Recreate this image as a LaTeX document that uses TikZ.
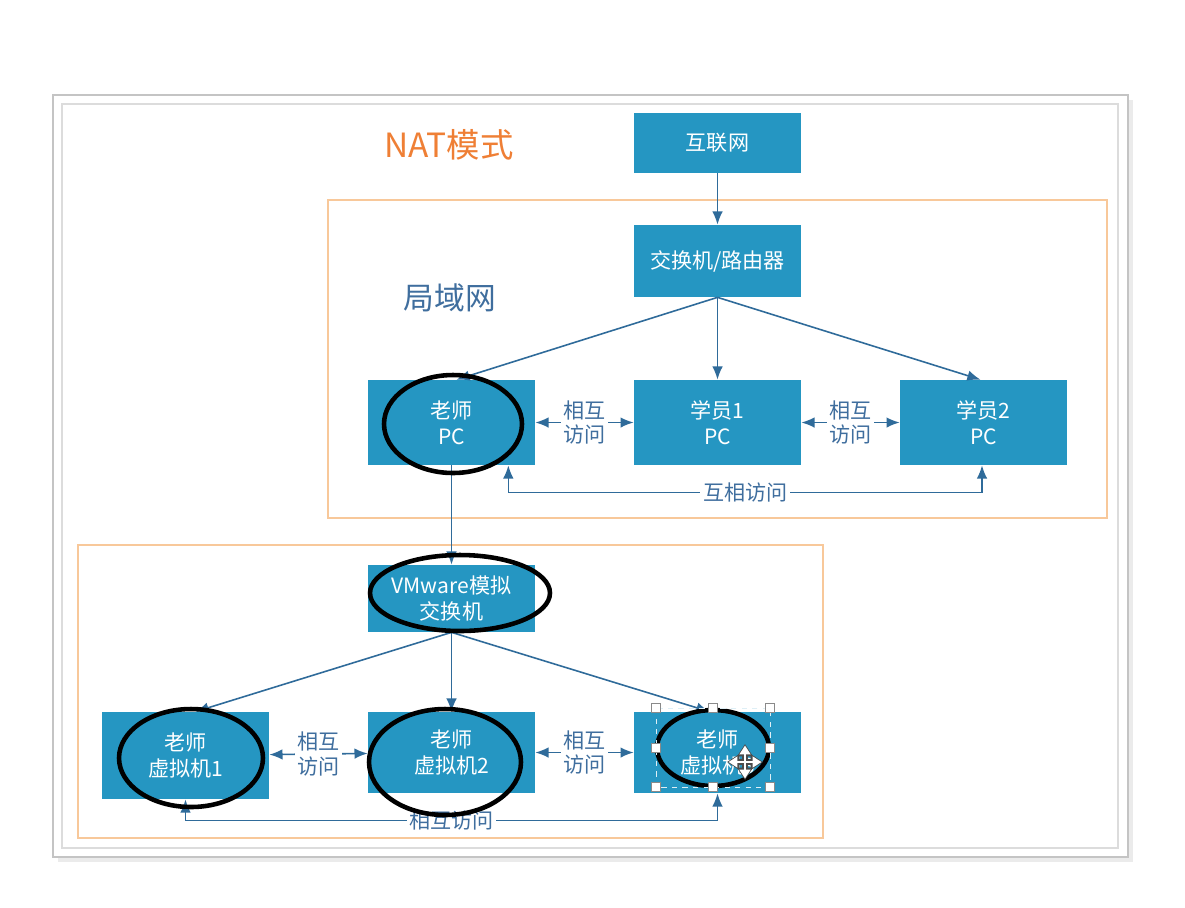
\documentclass[tikz,border=0pt]{standalone}
\usepackage{fontspec}
\setmainfont{Noto Sans CJK SC}
\usetikzlibrary{arrows.meta, positioning, calc}

\definecolor{boxblue}{HTML}{2596C2}
\definecolor{linkblue}{HTML}{2F6B9A}
\definecolor{textblue}{HTML}{3F6E9E}
\definecolor{zoneorange}{HTML}{F8C89A}
\definecolor{titleorange}{HTML}{EF7F35}
\definecolor{framegray}{HTML}{C4C4C4}
\definecolor{handlegray}{HTML}{8A8A8A}

\tikzset{
  netbox/.style={fill=boxblue, text=white, minimum width=3.34cm, align=center,
    inner sep=0pt, font=\fontsize{12}{15}\selectfont},
  link/.style={draw=linkblue, line width=0.9pt, -{Latex[length=7.5pt,width=6pt]}},
  duallink/.style={link, {Latex[length=7.5pt,width=6pt]}-{Latex[length=7.5pt,width=6pt]}},
  lbl/.style={fill=white, text=textblue, align=center, inner sep=1.5pt,
    font=\fontsize{12}{14}\selectfont},
  zone/.style={draw=zoneorange, line width=0.6pt},
  markring/.style={draw=black, line width=2.6pt},
  handle/.style={fill=white, draw=handlegray, line width=0.4pt, minimum size=5pt, inner sep=0pt},
}

\begin{document}
\begin{tikzpicture}[x=0.02cm, y=-0.02cm]
  \useasboundingbox (0,0) rectangle (1185,907);

  % Page frame
  \fill[black!8] (58,100) rectangle (1133,862);
  \draw[framegray, fill=white, line width=1pt] (53,95) rectangle (1128,857);
  \draw[framegray!60, line width=0.8pt] (62,104) rectangle (1118,848);

  % Zones
  \draw[zone] (328,200) rectangle (1107,518);
  \draw[zone] (78,545) rectangle (823,838);

  % Titles
  \node[text=titleorange, font=\fontsize{19}{22}\selectfont] (title) at (449,145) {NAT模式};
  \node[text=textblue, font=\fontsize{17.5}{20}\selectfont] (lan) at (450,298) {局域网};

  % Physical network
  \node[netbox, minimum height=1.2cm] (inet) at (717.5,143) {互联网};
  \node[netbox, minimum height=1.44cm] (router) at (717.5,261) {交换机/路由器};
  \node[netbox, minimum height=1.7cm] (teacherpc) at (451.5,422.5) {老师\\PC};
  \node[netbox, minimum height=1.7cm] (stu1) at (717.5,422.5) {学员1\\PC};
  \node[netbox, minimum height=1.7cm] (stu2) at (983.5,422.5) {学员2\\PC};

  % Virtual network
  \node[netbox, minimum height=1.34cm] (vmswitch) at (451.5,598.5) {VMware模拟\\交换机};
  \node[netbox, minimum height=1.74cm] (vm1) at (185.5,755.5) {老师\\虚拟机1};
  \node[netbox, minimum height=1.62cm] (vm2) at (451.5,752.5) {老师\\虚拟机2};
  \node[netbox, minimum height=1.62cm] (vm3) at (717.5,752.5) {老师\\虚拟机3};

  % Links
  \draw[link] (inet) -- (router);
  \draw[link] (router.south) -- ($(teacherpc.north)+(5,0)$);
  \draw[link] (router) -- (stu1);
  \draw[link] (router.south) -- ($(stu2.north)+(-3,0)$);
  \draw[duallink] (teacherpc) -- node[lbl] {相互\\访问} (stu1);
  \draw[duallink] (stu1) -- node[lbl] {相互\\访问} (stu2);
  \draw[duallink] ($(teacherpc.south east)+(-27,0)$) -- ++(0,27)
    -| node[lbl, pos=0.25] {互相访问} ($(stu2.south)+(-1.5,0)$);

  \draw[link] (teacherpc) -- (vmswitch);
  \draw[link] (vmswitch.south) -- ($(vm1.north)+(10,0)$);
  \draw[link] (vmswitch) -- (vm2);
  \draw[link] (vmswitch.south) -- ($(vm3.north)+(-8,0)$);
  \draw[duallink] (vm1) -- node[lbl] {相互\\访问} (vm2);
  \draw[duallink] (vm2) -- node[lbl] {相互\\访问} (vm3);
  \draw[duallink] (vm1.south) -- ++(0,21)
    -| node[lbl, pos=0.25] {相互访问} (vm3.south);

  % Hand-drawn marks
  \draw[markring] (453,424) ellipse [x radius=1.38cm, y radius=0.98cm];
  \draw[markring] (460,593) ellipse [x radius=1.8cm, y radius=0.76cm];
  \draw[markring] (191,758) ellipse [x radius=1.44cm, y radius=0.98cm];
  \draw[markring] (445,762) ellipse [x radius=1.52cm, y radius=1.06cm];
  \draw[markring] (713,748) ellipse [x radius=1.12cm, y radius=0.76cm];

  % Selection of the last mark
  \draw[white!85!boxblue, dashed, line width=0.5pt] (656,708) rectangle (770,787);
  \foreach \hx in {656,713,770}
    \foreach \hy in {708,787}
      \node[handle] at (\hx,\hy) {};
  \node[handle] at (656,747.5) {};
  \node[handle] at (770,747.5) {};

  % Move cursor
  \foreach \ang in {0,90,180,270}
    \draw[black!70, line width=3pt, -{Triangle[length=7pt,width=8.5pt]}]
      (745,762) -- ++(\ang:0.36cm);
  \foreach \ang in {0,90,180,270}
    \draw[white, line width=1.5pt, -{Triangle[length=5pt,width=6pt]}]
      (745,762) -- ++(\ang:0.33cm);
\end{tikzpicture}
\end{document}
